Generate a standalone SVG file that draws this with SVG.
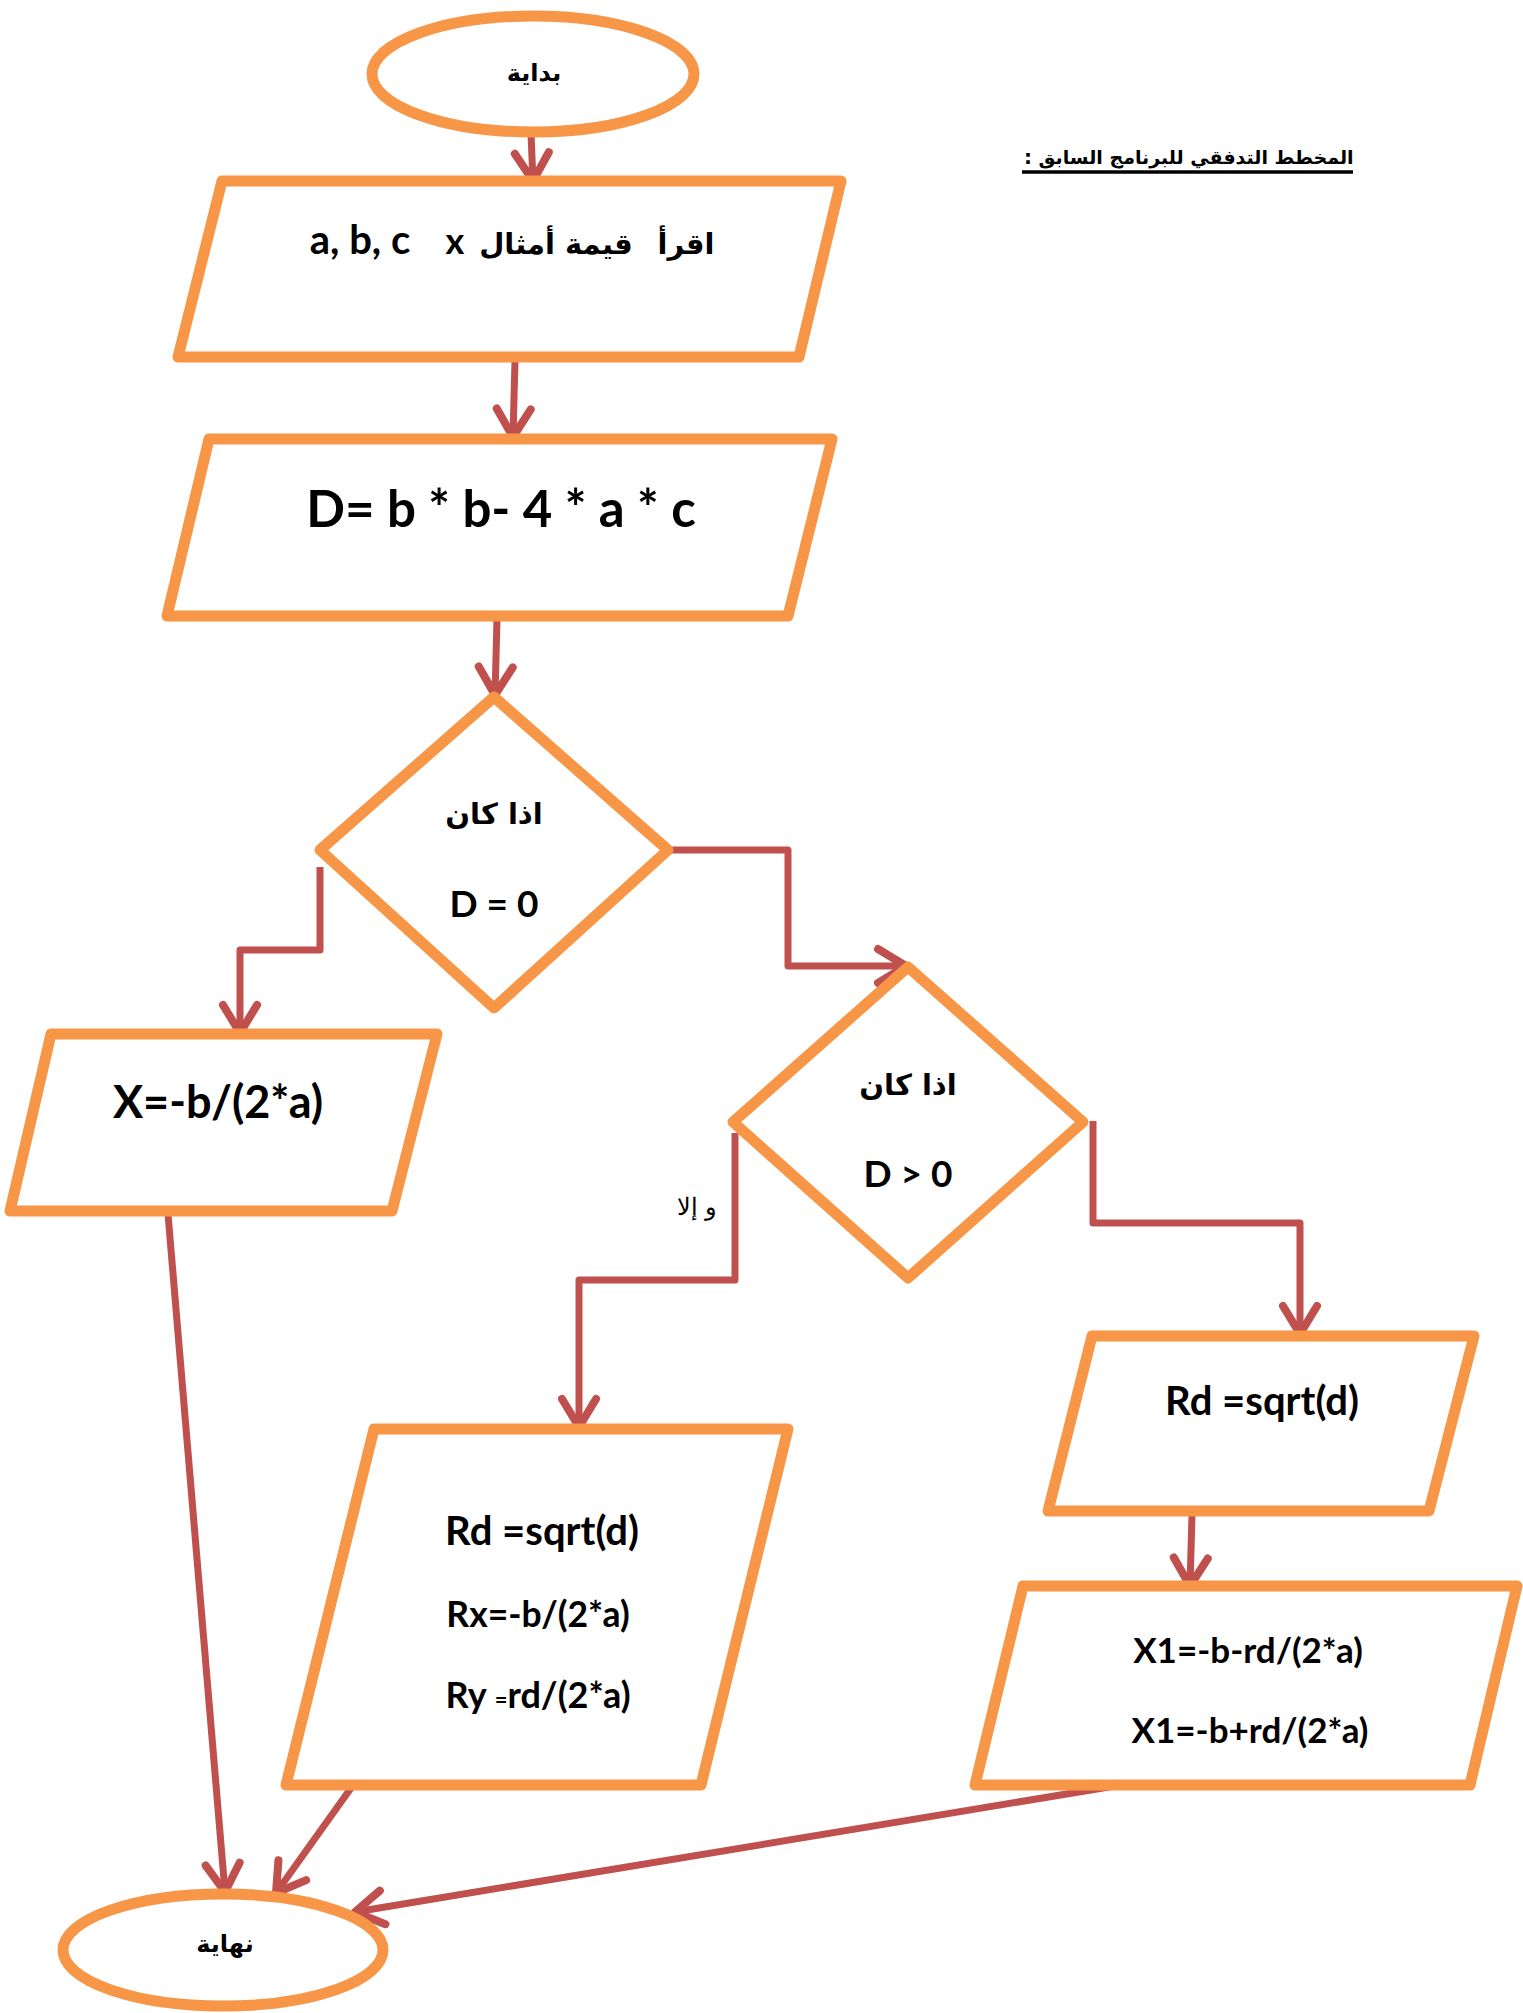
<svg xmlns="http://www.w3.org/2000/svg" width="1523" height="2013" viewBox="0 0 1523 2013">
  <style>
    .shape { fill: #FFFFFF; stroke: #F79646; stroke-width: 11; stroke-linejoin: round; }
    .link { fill: none; stroke: #C0504D; stroke-width: 7; stroke-linejoin: round; }
    .lat { font-family: "Lato", "Open Sans", sans-serif; font-weight: bold; fill: #000000; text-anchor: middle; }
    .ar { font-family: "DejaVu Sans", "Noto Sans", sans-serif; font-weight: bold; fill: #000000; text-anchor: middle; }
    .note { font-family: "DejaVu Serif", "Liberation Serif", serif; fill: #000000; text-anchor: middle; }
  </style>
  <defs>
    <marker id="arrow" markerUnits="userSpaceOnUse" markerWidth="40" markerHeight="40" orient="auto" overflow="visible">
      <path d="M -28 -17 L 0 0 L -28 17" fill="none" stroke="#C0504D" stroke-width="8" stroke-linecap="round" stroke-linejoin="round"/>
    </marker>
  </defs>

  <rect width="1523" height="2013" fill="#FFFFFF"/>

  <!-- heading -->
  <g id="heading">
    <text class="ar" x="1196" y="164" font-size="19">المخطط  التدفقي للبرنامج السابق</text>
    <text class="ar" x="1028" y="164" font-size="20">:</text>
    <line x1="1022" y1="172" x2="1353" y2="172" stroke="#000000" stroke-width="3.5"/>
  </g>

  <!-- connectors -->
  <g id="connectors">
    <path class="link" marker-end="url(#arrow)" d="M 531 134 L 533 181"/>
    <path class="link" marker-end="url(#arrow)" d="M 515 360 L 513 437"/>
    <path class="link" marker-end="url(#arrow)" d="M 497 619 L 495 695"/>
    <path class="link" marker-end="url(#arrow)" d="M 668 850 H 788 V 966 H 906"/>
    <path class="link" marker-end="url(#arrow)" d="M 320 867 V 950 H 240 V 1033"/>
    <path class="link" marker-end="url(#arrow)" d="M 168 1214 L 225 1892"/>
    <path class="link" marker-end="url(#arrow)" d="M 735 1133 V 1280 H 579 V 1427"/>
    <path class="link" marker-end="url(#arrow)" d="M 1093 1121 V 1223 H 1300 V 1334"/>
    <path class="link" marker-end="url(#arrow)" d="M 1192 1515 L 1190 1586"/>
    <path class="link" marker-end="url(#arrow)" d="M 351 1788 L 276 1893"/>
    <path class="link" marker-end="url(#arrow)" d="M 1121 1785 L 355 1912"/>
    <text class="note" x="697" y="1215" font-size="24">و إلا</text>
  </g>

  <!-- start -->
  <g id="start">
    <ellipse class="shape" cx="533" cy="74" rx="161" ry="58"/>
    <text class="ar" x="534" y="81" font-size="24">بداية</text>
  </g>

  <!-- read coefficients -->
  <g id="read-input">
    <polygon class="shape" points="222,181 841,181 799,357 178,357"/>
    <text class="lat" x="360" y="254" font-size="40">a, b, c</text>
    <text class="lat" x="455" y="254" font-size="36">x</text>
    <text class="ar" x="556" y="254" font-size="29">قيمة أمثال</text>
    <text class="ar" x="686" y="254" font-size="29">اقرأ</text>
  </g>

  <!-- discriminant -->
  <g id="discriminant">
    <polygon class="shape" points="209,439 832,439 788,616 167,616"/>
    <text class="lat" x="501" y="527" font-size="51">D= b * b- 4 * a * c</text>
  </g>

  <!-- test D = 0 -->
  <g id="test-zero">
    <polygon class="shape" points="494,697 668,850 494,1008 320,850"/>
    <text class="ar" x="494" y="824" font-size="29">اذا كان</text>
    <text class="lat" x="494" y="917" font-size="37">D = 0</text>
  </g>

  <!-- single root -->
  <g id="single-root">
    <polygon class="shape" points="51,1034 437,1034 392,1211 10,1211"/>
    <text class="lat" x="218" y="1118" font-size="45">X=-b/(2*a)</text>
  </g>

  <!-- test D > 0 -->
  <g id="test-positive">
    <polygon class="shape" points="908,967 1083,1122 908,1278 733,1122"/>
    <text class="ar" x="908" y="1095" font-size="29">اذا كان</text>
    <text class="lat" x="908" y="1187" font-size="37">D &gt; 0</text>
  </g>

  <!-- complex roots -->
  <g id="complex-roots">
    <polygon class="shape" points="374,1429 788,1429 701,1785 286,1785"/>
    <text class="lat" x="542" y="1545" font-size="40">Rd =sqrt(d)</text>
    <text class="lat" x="538" y="1627" font-size="35.5">Rx=-b/(2*a)</text>
    <text class="lat" x="538" y="1708" font-size="36">Ry <tspan font-size="22">=</tspan>rd/(2*a)</text>
  </g>

  <!-- square root -->
  <g id="square-root">
    <polygon class="shape" points="1092,1336 1474,1336 1429,1511 1048,1511"/>
    <text class="lat" x="1262" y="1415" font-size="40">Rd =sqrt(d)</text>
  </g>

  <!-- real roots -->
  <g id="real-roots">
    <polygon class="shape" points="1023,1586 1517,1586 1470,1785 975,1785"/>
    <text class="lat" x="1248" y="1663" font-size="35">X1=-b-rd/(2*a)</text>
    <text class="lat" x="1250" y="1743" font-size="35">X1=-b+rd/(2*a)</text>
  </g>

  <!-- end -->
  <g id="end">
    <ellipse class="shape" cx="223" cy="1950" rx="160" ry="56"/>
    <text class="ar" x="225" y="1952" font-size="24">نهاية</text>
  </g>
</svg>
